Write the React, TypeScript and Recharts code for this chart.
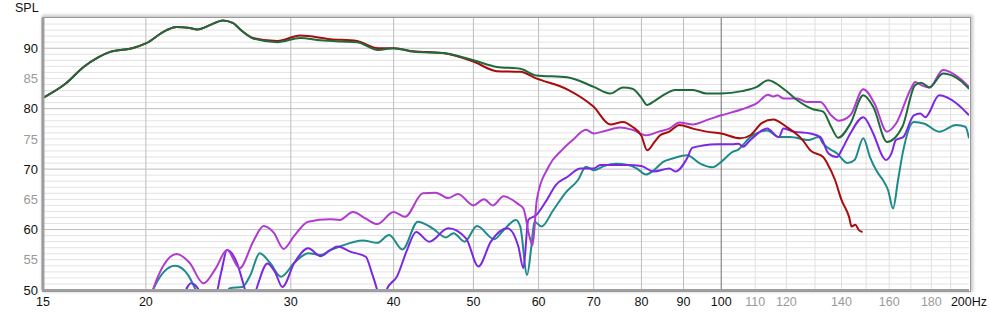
import React from 'react';
import { LineChart, Line, XAxis, YAxis, CartesianGrid } from 'recharts';

const xTicks = [15, 20, 30, 40, 50, 60, 70, 80, 90, 100, 110, 120, 140, 160, 180, 200];
const xMinorTickLabels = [110, 120, 140, 160, 180];
const yTicks = [50, 55, 60, 65, 70, 75, 80, 85, 90];
const majorVLines = [20, 30, 40, 50, 60, 70, 80, 90];
const darkVLines = [100];
const minorVLines = [110, 120, 130, 140, 150, 160, 170, 180, 190];
const majorHLines = [50, 60, 70, 80, 90];
const minorHLines = [51,52,53,54,55,56,57,58,59,61,62,63,64,65,66,67,68,69,71,72,73,74,75,76,77,78,79,81,82,83,84,85,86,87,88,89,91,92,93,94];

const greenHz = [15, 16, 16.8, 17.5, 18.1, 19.3, 20, 21.2, 21.8, 22.5, 23.1, 24, 24.8, 25.5, 26.2, 27, 28.9, 30.8, 32.6, 34.5, 36.1, 38.3, 40, 42.3, 45.9, 50, 53.4, 57, 59.6, 65, 70, 73.3, 76, 78, 80, 81.3, 83, 84.5, 88, 92.4, 96, 100, 106, 110.5, 114, 119, 123.7, 129.3, 133, 136, 138.7, 143.5, 148.8, 153, 159, 166, 172, 175, 179, 186, 195, 200];
const greenDb = [81.8, 84.2, 86.9, 88.5, 89.4, 90.05, 90.8, 93.0, 93.5, 93.4, 93.1, 93.9, 94.6, 94.2, 92.8, 91.6, 91.0, 91.7, 91.3, 91.1, 91.0, 89.7, 90.0, 89.4, 89.2, 88.0, 86.9, 86.6, 85.5, 85.2, 83.6, 82.5, 83.5, 83.3, 81.8, 80.6, 81.3, 82.0, 83.1, 83.1, 82.5, 82.5, 82.9, 83.6, 84.7, 83.3, 81.4, 79.9, 79.5, 77.0, 75.2, 77.5, 82.2, 80.3, 74.5, 77.0, 83.9, 84.3, 83.5, 85.8, 84.7, 83.3];

const redHz = [15, 16, 16.8, 17.5, 18.1, 19.3, 20, 21.2, 21.8, 22.5, 23.1, 24, 24.8, 25.5, 26.2, 27, 28.9, 30.8, 33.5, 36.1, 38.3, 40, 42.3, 45.9, 50, 53.4, 57, 59.6, 65, 70, 73.3, 76, 78, 80, 81.3, 83, 84.3, 86.5, 89, 92.4, 96, 100, 105.5, 108.5, 112, 115.6, 120, 125.6, 128.3, 133, 134.6, 137.5, 140, 143, 144, 145.5, 147, 148.5];
const redDb = [81.8, 84.2, 86.9, 88.5, 89.4, 90.05, 90.8, 93.0, 93.5, 93.4, 93.1, 93.9, 94.6, 94.2, 92.8, 91.7, 91.2, 92.1, 91.5, 91.2, 90.0, 90.0, 89.5, 89.2, 87.8, 86.2, 86.1, 85.0, 83.2, 80.3, 77.4, 77.8, 77.0, 75.5, 73.1, 74.5, 75.6, 76.2, 77.3, 76.7, 76.2, 75.9, 75.1, 75.6, 77.6, 78.2, 77.0, 74.8, 73.1, 72.0, 70.9, 68.2, 64.9, 62.1, 60.5, 60.8, 59.9, 59.6];

const magentaHz = [20, 20.4, 21, 21.8, 22.6, 23.5, 24.3, 25.1, 26, 27, 27.8, 28.6, 29.4, 30.3, 31.5, 33.5, 34.4, 35.7, 37, 38.2, 40, 41.3, 43.4, 45, 46.6, 47.9, 50, 51.5, 52.8, 54.4, 56.7, 57.5, 58.5, 59, 59.7, 61.7, 64, 66, 68.5, 70, 72.6, 75.3, 78, 81, 84, 86.5, 89, 92.4, 96, 100, 106, 110.5, 114, 115.6, 117, 119, 123.7, 127, 132, 136, 139, 143.5, 148.8, 153.5, 159, 163, 170, 172, 175, 179, 186, 195, 200];
const magentaDb = [46, 50, 54.0, 55.95, 54.5, 51.1, 53.5, 56.6, 53.6, 58.0, 60.6, 59.5, 56.8, 59.0, 61.3, 61.7, 61.6, 62.9, 61.8, 60.9, 62.9, 62.1, 66.0, 66.1, 65.2, 65.9, 64.0, 65.0, 64.0, 65.5, 64.2, 63.5, 58.8, 57.4, 64.9, 70.4, 73.1, 74.8, 76.5, 75.9, 76.4, 76.9, 76.5, 75.6, 76.2, 76.7, 77.7, 77.4, 78.1, 78.9, 79.9, 80.9, 82.3, 82.0, 82.2, 81.7, 81.7, 81.1, 81.1, 78.9, 78.0, 78.9, 83.2, 80.9, 76.2, 77.5, 83.3, 84.4, 83.9, 83.5, 86.4, 85.0, 83.6];

const tealHz = [20, 20.4, 21.7, 22.5, 23, 23.6, 24.5, 25.3, 26.2, 26.8, 27.5, 28.3, 29.2, 30.3, 31.5, 32.6, 33.5, 34.4, 36.7, 38.2, 39.5, 41, 42.8, 44.6, 46.3, 47.3, 48.8, 50.5, 53, 54.4, 56.3, 57, 58.1, 58.8, 59.3, 60.5, 62.5, 64.8, 67, 68.5, 70, 72, 74.5, 77, 79, 81, 82.8, 85, 87.5, 90.9, 94.3, 97.5, 100, 103.4, 104.5, 108.5, 113.7, 117.5, 121.3, 127.6, 131.3, 133, 138.3, 142.4, 145.2, 148.8, 151.6, 154.6, 157.2, 159.5, 161.7, 164, 166.4, 171.4, 176.6, 184, 193, 198, 200];
const tealDb = [46, 50, 54.0, 52.5, 50, 47, 47, 50.3, 50.5, 52.5, 56.1, 54.5, 52.2, 54.5, 56.1, 55.8, 56.6, 57.2, 58.2, 57.8, 59.1, 56.7, 61.3, 60.2, 58.7, 59.4, 58.0, 60.6, 58.4, 59.9, 61.6, 60.5, 52.5, 57.2, 61.3, 60.5, 63.2, 66.2, 68.2, 70.4, 69.8, 70.5, 70.9, 70.7, 70.1, 69.1, 69.8, 71.2, 71.8, 72.3, 70.9, 70.3, 71.2, 72.9, 73.1, 75.3, 76.4, 75.3, 75.3, 74.8, 75.3, 74.2, 72.6, 71.0, 71.5, 75.1, 72.0, 69.6, 68.2, 66.5, 63.5, 68.2, 73.1, 77.8, 77.5, 76.2, 77.3, 77.0, 75.1];

const violetHz = [22, 22.7, 23.2, 23.5, 24.2, 24.7, 25.1, 25.8, 26.4, 26.8, 27.3, 28.1, 28.7, 29.3, 30.3, 31.5, 32.6, 33.5, 34.2, 35.5, 37, 37.6, 38.2, 38.7, 39.2, 40.4, 41.5, 42.6, 44.2, 46.6, 49, 50.7, 52.5, 55, 56.7, 57.5, 58.3, 59.6, 61.2, 63, 65, 67.5, 70, 71.3, 74, 77, 80, 82.8, 86.5, 88, 90.9, 92.2, 95, 99, 103, 105, 106.3, 108.5, 113.7, 117.5, 119, 122.5, 128.3, 132, 135, 138.3, 140, 143.5, 148.8, 153, 157.2, 158.5, 161, 163, 166.4, 171.4, 174.5, 177, 184, 193, 200];
const violetDb = [47, 51.1, 50, 47, 48, 53, 56.6, 54.5, 50, 47, 50.5, 54.4, 53, 50.5, 54.5, 56.9, 55.6, 56.6, 57.2, 56.3, 55.5, 53, 50, 47, 50, 52.3, 56.5, 59.6, 58.0, 60.2, 58.5, 53.9, 58.0, 60.2, 57.2, 53.6, 61.6, 62.4, 64.6, 67.4, 68.7, 70.1, 70.1, 70.7, 70.7, 70.7, 70.5, 69.6, 70.1, 69.6, 71.8, 73.5, 73.9, 74.1, 74.1, 74.2, 73.7, 74.8, 76.7, 75.3, 76.7, 76.2, 75.9, 75.3, 72.6, 72.0, 73.1, 75.9, 78.6, 75.9, 72.0, 71.5, 72.6, 74.8, 75.3, 78.9, 79.2, 78.6, 82.2, 80.9, 78.9];

const toPts = (hz: number[], db: number[]) => hz.map((f, i) => ({ f, v: db[i] }));

const series = [
  { name: 'teal', color: '#1e8a8a', data: toPts(tealHz, tealDb) },
  { name: 'violet', color: '#7a28e4', data: toPts(violetHz, violetDb) },
  { name: 'magenta', color: '#b03ccf', data: toPts(magentaHz, magentaDb) },
  { name: 'red', color: '#a80c0c', data: toPts(redHz, redDb) },
  { name: 'green', color: '#1f6a3c', data: toPts(greenHz, greenDb) },
];

const FONT = '"Liberation Sans", Arial, sans-serif';

const XTick = (props: any) => {
  const { x, y, payload } = props;
  const val = payload.value;
  const gray = xMinorTickLabels.includes(val);
  return (
    <text x={x} y={y} dy="0.71em" textAnchor="middle" fontFamily={FONT} fontSize={12.5} fill={gray ? '#9a9a9a' : '#111'}>
      {val === 200 ? '200Hz' : String(val)}
    </text>
  );
};

const YTick = (props: any) => {
  const { x, y, payload } = props;
  const val = payload.value;
  const gray = val % 10 !== 0;
  return (
    <text x={x} y={y} dy="0.355em" textAnchor="end" fontFamily={FONT} fontSize={13} fill={gray ? '#9a9a9a' : '#111'}>
      {String(val)}
    </text>
  );
};

export default function App() {
  return (
    <div style={{ position: 'absolute', left: 0, top: 0, width: 990, height: 315, background: '#fff' }}>
      <div style={{ position: 'absolute', left: 15, top: 1, fontFamily: FONT, fontSize: 12.5, color: '#111' }}>SPL</div>
      <LineChart width={990} height={315} data={series[4].data} margin={{ top: 18, right: 21, bottom: 0, left: 0 }}>
        <CartesianGrid horizontal={true} vertical={false} horizontalValues={minorHLines} stroke="#e3e3e3" strokeWidth={1} />
        <CartesianGrid horizontal={false} vertical={true} verticalValues={minorVLines} stroke="#e0e0e0" strokeWidth={1} />
        <CartesianGrid horizontal={true} vertical={false} horizontalValues={majorHLines} stroke="#bdbdbd" strokeWidth={1} />
        <CartesianGrid horizontal={false} vertical={true} verticalValues={majorVLines} stroke="#bdbdbd" strokeWidth={1} />
        <CartesianGrid horizontal={false} vertical={true} verticalValues={darkVLines} stroke="#6e6e6e" strokeWidth={1} />
        <XAxis
          dataKey="f"
          type="number"
          scale="log"
          domain={[15, 200]}
          allowDataOverflow
          ticks={xTicks}
          tick={<XTick />}
          tickLine={false}
          tickSize={0}
          tickMargin={7}
          height={25}
          axisLine={{ stroke: '#a0a0a0', strokeWidth: 2 }}
          interval={0}
        />
        <YAxis
          type="number"
          domain={[50, 95]}
          allowDataOverflow
          ticks={yTicks}
          tick={<YTick />}
          tickLine={false}
          tickSize={0}
          tickMargin={5}
          width={43}
          axisLine={{ stroke: '#a0a0a0', strokeWidth: 3 }}
          interval={0}
        />
        {series.map((s) => (
          <Line
            key={s.name}
            data={s.data}
            dataKey="v"
            type="monotone"
            stroke={s.color}
            strokeWidth={2}
            dot={false}
            activeDot={false}
            isAnimationActive={false}
            connectNulls
          />
        ))}
      </LineChart>
      <div
        style={{
          position: 'absolute',
          left: 42,
          top: 17,
          width: 927,
          height: 273,
          border: '1px solid #9a9a9a',
          boxShadow: '1px -1px 3px 1px rgba(0,0,0,0.22)',
          pointerEvents: 'none',
        }}
      />
    </div>
  );
}
